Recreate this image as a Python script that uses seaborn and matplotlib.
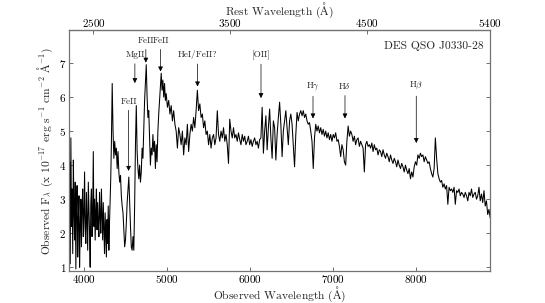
import numpy as np
import pandas as pd
import matplotlib
matplotlib.use('Agg')
import matplotlib.pyplot as plt
import seaborn as sns

# redshift used for the rest-frame axis
z = 0.6455

# spectrum, one list per stretch: start wavelength, sampling step, fluxes
start_blue, step_blue = 3820, 7.5
flux_blue = [2.9, 4.1, 1.1, 4.8, 2.2, 3.3, 1.4, 4.15, 2.6, 1.8,
             3.5, 0.95, 2.7, 3.4, 1.3, 2.4, 3.1, 1.0, 2.2, 3.0,
             1.6, 2.8, 3.3, 1.9, 2.5, 3.8, 2.1, 1.7, 3.2, 2.4,
             1.5, 3.5, 2.8, 2.0, 1.0, 2.9, 3.3, 1.9, 2.6, 4.4,
             2.2, 3.0, 1.8, 2.7, 3.3, 2.1, 2.9, 2.3, 1.9, 3.2,
             2.5, 2.0, 3.3, 2.6, 1.8, 2.9, 2.2, 1.4, 2.6, 2.0,
             1.3, 2.4, 1.7, 2.8, 1.5, 2.3, 2.9, 3.6]

start_mgii, step_mgii = 4330, 10
flux_mgii = [4.6, 6.4, 5.0, 4.2, 4.7, 4.3, 4.5, 3.9, 4.4, 3.8,
             3.5, 3.7, 3.1, 2.8, 2.6, 2.1, 1.6, 1.8, 2.3, 2.9,
             3.3, 3.65, 2.9, 2.2, 1.6, 1.5, 1.9, 1.5, 2.8, 4.6,
             5.75, 4.4, 3.9, 3.6, 4.0, 3.5, 3.8, 4.5, 4.2, 5.0,
             5.9, 6.4, 6.95, 6.0, 5.4, 5.6, 4.8, 4.0, 4.5, 4.3,
             4.9, 4.4, 4.7, 3.9, 4.6, 4.1, 5.0, 5.5, 5.9, 6.3,
             6.7, 6.2, 6.5, 6.0, 6.4, 5.9, 6.1]

start_mid, step_mid = 5005, 15
flux_mid = [5.7, 5.9, 5.5, 5.75, 5.3, 5.6, 5.2, 5.0, 4.5, 5.1,
            4.9, 4.6, 5.0, 4.3, 4.8, 4.6, 5.2, 4.4, 4.9, 5.2,
            5.0, 5.4, 5.1, 5.6, 6.2, 5.6, 5.8, 5.4, 5.5, 5.1,
            5.3, 4.9, 5.0, 4.6, 4.9, 4.5, 4.8, 4.9, 4.6, 4.8,
            5.6, 4.9, 4.7, 5.0, 4.8, 5.1, 4.7, 4.9, 4.6, 4.05,
            5.35, 5.0, 4.8, 5.1, 4.8, 4.9, 4.7, 4.95, 4.75, 4.6,
            4.9, 4.7, 4.85, 4.6, 4.7, 4.85, 4.6, 4.75, 4.55, 4.7,
            4.8, 4.6, 4.7, 4.5, 4.75]

start_oii, step_oii = 6130, 15
flux_oii = [4.8, 5.7, 4.35, 5.0, 5.45, 4.45, 5.1, 5.65, 4.8, 4.2,
            5.3, 5.1, 4.15, 4.9, 5.4, 5.85, 5.2, 4.25, 5.0, 5.3,
            5.6, 5.1, 4.6, 5.3, 5.5, 5.2, 4.6, 3.95, 4.9, 5.55,
            5.3, 5.5, 5.6, 5.45, 5.6, 5.4, 5.5, 5.3, 5.2, 5.25,
            5.0, 4.7, 3.9, 4.8, 5.2, 5.0, 5.15, 4.95, 5.1, 4.9,
            5.05, 4.85, 5.0, 4.8, 4.95, 4.75, 4.9, 4.7]

start_red, step_red = 7000, 15
flux_red = [4.9, 4.8, 4.95, 4.7, 4.75, 4.55, 4.25, 4.6, 4.45, 4.1,
            4.0, 4.7, 5.15, 4.85, 5.0, 4.9, 4.7, 4.85, 4.6, 4.75,
            4.8, 4.55, 4.7, 4.6, 4.5, 3.8, 4.6, 4.7, 4.55, 4.6,
            4.5, 4.65, 4.4, 4.6, 4.45, 4.5, 4.3, 4.45, 4.4, 4.25,
            4.45, 4.3, 4.2, 4.35, 4.25, 4.1, 4.3, 4.15, 4.05, 4.2,
            4.1, 3.95, 4.15, 4.0, 3.9, 4.05, 3.95, 3.8, 4.0, 3.85,
            3.75, 3.9, 3.6, 3.8, 3.65, 3.95, 4.1]

start_hb, step_hb = 8005, 15
flux_hb = [4.0, 4.3, 4.2, 4.35, 4.25, 4.3, 4.1, 4.25, 4.15, 4.05,
           4.1, 3.9, 3.75, 3.65, 3.9, 4.8, 4.2, 3.75, 3.6, 3.5,
           3.55, 3.35, 3.45, 3.3, 3.4, 2.85, 3.35, 3.25, 3.3, 3.2,
           3.35, 2.85, 3.25, 3.2, 3.3, 3.1, 3.2, 3.15, 3.05, 3.2,
           3.1, 2.95, 3.2, 3.1, 3.3, 3.05, 3.15, 3.2, 3.0, 3.1,
           3.35, 2.95, 3.15, 2.9, 3.25, 2.8, 2.95, 2.55, 2.7, 2.45]

# line markers: label, observed wavelength, arrow tip flux, label flux
line_names = ['FeII', 'MgII', 'FeII', 'FeII', 'HeI/FeII?', '[OII]',
              r'H$\gamma$', r'H$\delta$', r'H$\beta$']
line_waves = [4537, 4613, 4745, 4922, 5367, 6131, 6757, 7142, 8000]
line_tips = [3.83, 6.41, 7.01, 6.75, 6.31, 5.97, 5.37, 5.37, 4.65]
line_text = [5.87, 7.24, 7.66, 7.66, 7.24, 7.24, 6.33, 6.33, 6.33]

rest_ticks = [2500, 3500, 4500, 5400]

segments = [(start_blue, step_blue, flux_blue),
            (start_mgii, step_mgii, flux_mgii),
            (start_mid, step_mid, flux_mid),
            (start_oii, step_oii, flux_oii),
            (start_red, step_red, flux_red),
            (start_hb, step_hb, flux_hb)]
wave = np.concatenate([s + d * np.arange(len(f)) for s, d, f in segments])
flux = np.concatenate([f for s, d, f in segments])
spec = pd.DataFrame({'wave': wave, 'flux': flux})

sns.set_style('ticks')
plt.rcParams['font.family'] = ['cmr10', 'DejaVu Serif']
plt.rcParams['mathtext.fontset'] = 'cm'
plt.rcParams['axes.formatter.use_mathtext'] = True
plt.rcParams['axes.unicode_minus'] = False

fig = plt.figure(figsize=(5.45, 3.03), dpi=100)
ax = fig.add_axes([0.1266, 0.1056, 0.7724, 0.7954])

sns.lineplot(data=spec, x='wave', y='flux', ax=ax, color='k', lw=0.75,
             sort=False, estimator=None)

ax.set_xlim(3820, 8887)
ax.set_ylim(0.89, 7.97)
ax.set_xticks([4000, 5000, 6000, 7000, 8000])
ax.set_yticks([1, 2, 3, 4, 5, 6, 7])
ax.tick_params(direction='in', labelsize=8, length=3, width=0.6,
               colors='0.35', labelcolor='k', right=True, top=False)
ax.tick_params(axis='x', pad=1.5)
ax.tick_params(axis='y', pad=2)
for sp in ax.spines.values():
    sp.set_color('0.45')
    sp.set_linewidth(0.9)

ax.set_xlabel(r'Observed Wavelength ($\mathrm{\AA}$)', fontsize=8.3, labelpad=-0.5)
ax.set_ylabel(r'Observed F$_\lambda$ (x 10$^{-17}$ erg s$^{-1}$ cm$^{-2}$ $\mathrm{\AA}^{-1}$)',
              fontsize=8.3, labelpad=3)

sec = ax.secondary_xaxis('top', functions=(lambda w: w / (1 + z),
                                           lambda r: r * (1 + z)))
sec.set_xticks(rest_ticks)
sec.tick_params(direction='in', labelsize=8, length=3, width=0.6,
                colors='0.35', labelcolor='k', pad=0.5)
sec.set_xlabel(r'Rest Wavelength ($\mathrm{\AA}$)', fontsize=8.3, labelpad=2)

ax.text(0.985, 0.955, 'DES QSO J0330-28', transform=ax.transAxes,
        ha='right', va='top', fontsize=8.3)

for name, w, tip, ty in zip(line_names, line_waves, line_tips, line_text):
    ax.annotate(name, xy=(w, tip), xytext=(w, ty), ha='center', va='center',
                fontsize=6.6,
                arrowprops=dict(arrowstyle='-|>', color='k', lw=0.5,
                                shrinkA=1, shrinkB=0, mutation_scale=7))

fig.savefig('out.png', dpi=100)
plt.close(fig)
